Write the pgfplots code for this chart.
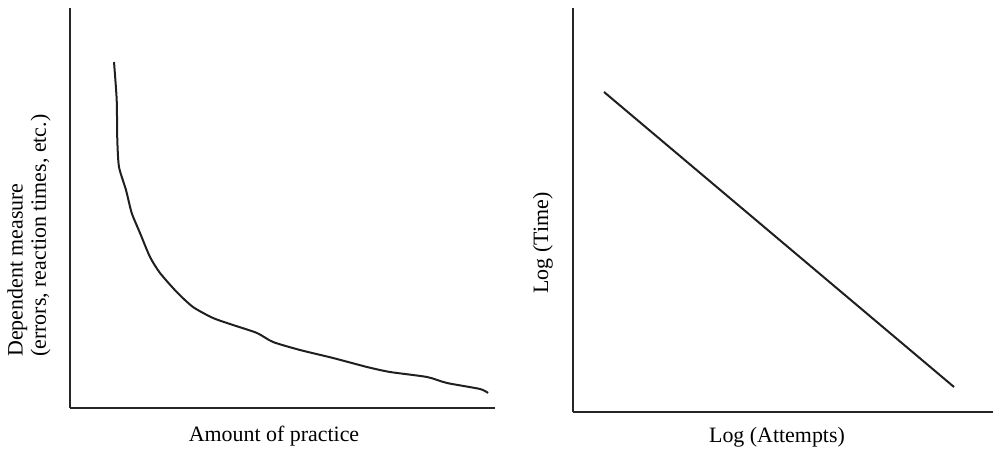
\documentclass[border=0pt]{standalone}
\usepackage{fontspec}
\setmainfont{Liberation Serif}
\usepackage{pgfplots}
\pgfplotsset{compat=1.18}
\begin{document}
\begin{tikzpicture}[x=1bp,y=1bp]
\path[use as bounding box] (0,0) rectangle (993,450);
\pgfplotsset{
  every axis/.append style={
    scale only axis, axis lines*=left, ticks=none,
    axis line style={line width=2.4bp, color=black!85},
    clip=false,
  }
}
% Left panel
\begin{axis}[at={(70bp,42bp)}, anchor=origin, width=425bp, height=400bp,
  xmin=0, xmax=425, ymin=0, ymax=400]
\addplot[line width=2bp, color=black!88, smooth, tension=0.4] coordinates {
(44,346) (46.7,308) (47.3,268) (49,241) (56,218) (61.7,195) (70,175)
(80,151) (90,135) (106.7,116) (123,101) (143,90) (163,83) (187,75)
(203,66) (230,58) (263,50) (297,41) (320,36) (357,31) (377,25)
(410,19) (418,15)};
\end{axis}
% Right panel
\begin{axis}[at={(573bp,38bp)}, anchor=origin, width=420bp, height=404bp,
  xmin=0, xmax=420, ymin=0, ymax=404]
\addplot[line width=2bp, color=black!88] coordinates {(31,320) (381,25)};
\end{axis}
\node[rotate=90, anchor=west, align=left, font=\fontsize{22}{23.5}\selectfont, inner sep=0pt]
  at (29,93) {Dependent measure\\(errors, reaction times, etc.)};
\node[anchor=base, font=\fontsize{22}{24}\selectfont, inner sep=0pt]
  at (274,8) {Amount of practice};
\node[rotate=90, anchor=center, font=\fontsize{22}{24}\selectfont, inner sep=0pt]
  at (543,207) {Log (Time)};
\node[anchor=base, font=\fontsize{22}{24}\selectfont, inner sep=0pt]
  at (777,7) {Log (Attempts)};
\end{tikzpicture}
\end{document}
